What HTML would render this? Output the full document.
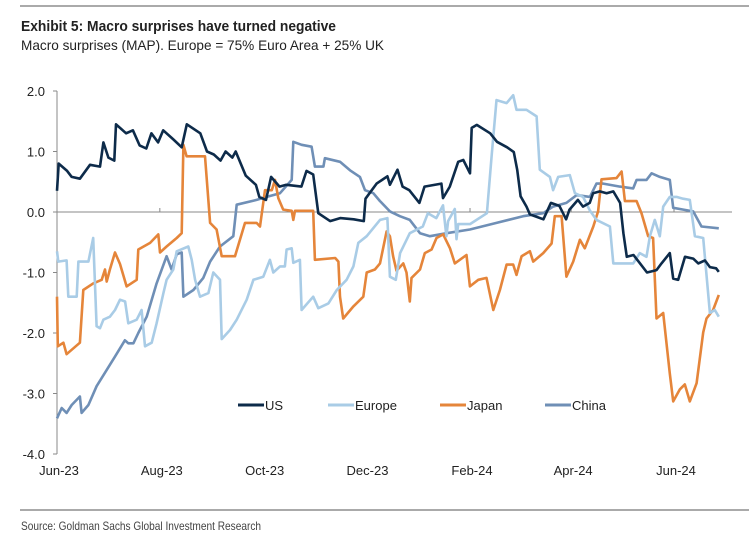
<!DOCTYPE html>
<html><head><meta charset="utf-8"><style>
body{margin:0;background:#fff;}
svg{display:block;font-family:"Liberation Sans",Arial,sans-serif;}
</style></head><body>
<svg id="chart" width="749" height="543" viewBox="0 0 749 543" xmlns="http://www.w3.org/2000/svg">
<line x1="20" y1="6" x2="749" y2="6" stroke="#555" stroke-width="1"/>
<text x="21" y="31" font-size="15" font-weight="bold" fill="#222" textLength="315" lengthAdjust="spacingAndGlyphs">Exhibit 5: Macro surprises have turned negative</text>
<text x="21" y="50" font-size="14" fill="#222" textLength="363" lengthAdjust="spacingAndGlyphs">Macro surprises (MAP). Europe = 75% Euro Area + 25% UK</text>
<g id="axes"></g>
<g id="series"></g>
<g id="legend"></g>
<line x1="20" y1="510" x2="749" y2="510" stroke="#555" stroke-width="1"/>
<text x="21" y="530" font-size="12" fill="#444" textLength="240" lengthAdjust="spacingAndGlyphs">Source: Goldman Sachs Global Investment Research</text>
</svg>
<script>
const yTicks=[2,1,0,-1,-2,-3,-4];
const yTickLabels=["2.0","1.0","0.0","-1.0","-2.0","-3.0","-4.0"];
const xTickDays=[0,61,122,183,245,305,366];
const xTickLabels=["Jun-23","Aug-23","Oct-23","Dec-23","Feb-24","Apr-24","Jun-24"];
const seriesNames=["US","Europe","Japan","China"];
const usDays=[0,1,6,8.7,13.6,19.6,25.5,27.5,30.5,34,35,41,45,49,53,56,60,63,69,74,77,85,89,93,97,100,104,106,112,118,120,124,127,132,136,145,148,152,155,162,168,176,182,183,189.6,196,197.5,202,205,209,215,218,228,229,233,238,241,245,246,249,257,261,267,271,273,275,278.5,280.5,288.5,293,298,302,304,309,312,316,318,322,326,330,334,336,338,342,345,350,355.6,358.6,363.5,365.5,368.5,372.5,377.4,380.4,384.3,387.3,391,392.6];
const usVals=[0.35,0.8,0.68,0.58,0.55,0.78,0.75,1.15,0.9,0.85,1.45,1.3,1.35,1.1,1.05,1.3,1.15,1.35,1.2,1.07,1.45,1.3,1.0,0.95,0.85,1.0,0.9,1.0,0.6,0.45,0.25,0.2,0.58,0.42,0.45,0.42,0.68,0.62,-0.02,-0.15,-0.1,-0.12,-0.15,0.22,0.47,0.59,0.45,0.7,0.42,0.36,0.15,0.42,0.47,0.23,0.42,0.83,0.86,0.64,1.39,1.44,1.3,1.16,1.07,0.99,0.7,0.26,0.09,-0.04,-0.12,0.15,0.1,-0.12,0.04,0.2,0.09,0.15,0.31,0.34,0.31,0.34,0.15,-0.35,-0.74,-0.71,-0.82,-1.0,-0.96,-0.85,-0.68,-1.1,-1.12,-0.74,-0.77,-0.85,-0.8,-0.91,-0.93,-0.99];
const euDays=[0,0.8,5.7,6.7,11.7,12.7,18.6,21.5,23.5,25.5,27.5,31.4,34.4,37.4,40.4,42.3,47.3,50.2,52.2,56.2,59.1,63.1,65,69,71,77.9,79.9,81.9,84.8,89.8,92.7,96.7,97.7,102.6,106.6,112.5,116.5,122.4,126.3,128.3,132.3,135.2,136.2,139.2,140.2,144.1,145.1,152,155,161,166,171.8,175.8,178.7,183.7,191.6,196,197.5,201,203.5,209.3,217,220,225,229,231,232,236,237,238,245,255,257.8,260.7,266.7,270.6,272.6,278.5,284.5,286.4,292.4,294.3,297.3,304.2,307.2,312.1,316,320,328,330,341.8,345.7,349.7,351.7,354.6,357.6,359.6,363.5,367.5,371.4,375.4,378.4,383.3,387.3,390.2,392.6];
const euVals=[-0.65,-0.82,-0.8,-1.4,-1.4,-0.82,-0.82,-0.43,-1.89,-1.92,-1.78,-1.73,-1.62,-1.45,-1.48,-1.84,-1.78,-1.62,-2.22,-2.16,-1.84,-1.34,-1.12,-0.95,-0.65,-0.57,-0.79,-1.12,-1.4,-1.34,-1.0,-1.12,-2.1,-1.95,-1.78,-1.45,-1.12,-1.07,-0.79,-1.0,-0.9,-0.9,-0.62,-0.6,-0.84,-0.79,-1.62,-1.4,-1.59,-1.51,-1.29,-1.12,-0.9,-0.51,-0.4,-0.13,-0.1,-1.07,-1.12,-0.68,-0.35,-0.24,-0.02,-0.1,0.11,-0.4,-0.15,0.05,-0.45,-0.2,-0.2,-0.02,0.92,1.85,1.8,1.93,1.69,1.69,1.58,0.7,0.58,0.36,0.58,0.61,0.31,0.25,0.03,-0.13,-0.24,-0.85,-0.85,-0.68,-0.74,-0.4,-0.13,-0.4,0.09,0.25,0.25,0.22,0.2,-0.4,-0.43,-1.67,-1.62,-1.73];
const jpDays=[0,0.5,3.8,5.7,13.6,15.6,21.5,26.5,28.5,29.5,31.4,34.4,37.4,41.3,47.3,48.2,55.2,60.1,61.1,65,71,74,75,76.9,87.8,90.8,94.7,97.7,105.6,111.5,118.4,120.4,123.4,127.4,129.3,131.3,134.2,139.2,140.2,141.2,152,153,165,166.9,167.9,169.8,175.8,181.7,183.7,188.6,191.6,195.5,197.5,199.4,201.4,205.4,207.3,209.3,210.3,215.3,218.2,222.2,225.1,229.1,233.1,236,242.9,244.9,249.9,254.8,258.8,262.7,266.7,270.6,272.6,275.6,280.5,282.5,288.4,293.4,295.3,299.3,302.2,306.2,310.2,313.1,318.1,321,323,331.9,334.9,336.9,343.8,346.7,350.7,353.6,355.6,359.6,363.5,365.5,369.5,372.4,375.4,379.4,383.3,385.3,389.2,392.6];
const jpVals=[-1.4,-2.22,-2.16,-2.35,-2.16,-1.29,-1.18,-1.12,-0.95,-1.15,-0.95,-0.67,-0.86,-1.23,-1.12,-0.62,-0.51,-0.37,-0.67,-0.57,-0.43,-0.35,1.11,0.92,0.92,-0.18,-0.29,-0.73,-0.73,-0.18,-0.18,-0.24,0.36,0.36,0.53,0.23,0.04,0.02,-0.13,0.02,0.02,-0.79,-0.76,-0.82,-1.4,-1.76,-1.56,-1.4,-1.0,-0.95,-0.85,-0.32,-0.4,-0.73,-0.97,-0.85,-1.0,-1.48,-1.09,-0.95,-0.68,-0.62,-0.43,-0.37,-0.6,-0.85,-0.71,-1.23,-1.12,-1.09,-1.62,-1.29,-0.87,-0.87,-1.04,-0.73,-0.65,-0.82,-0.68,-0.52,-0.07,-0.07,-1.07,-0.82,-0.46,-0.6,-0.24,0.01,0.54,0.56,0.67,0.18,0.18,-0.02,-0.4,-0.43,-1.76,-1.67,-2.67,-3.13,-2.93,-2.85,-3.13,-2.83,-1.99,-1.76,-1.62,-1.37];
const cnDays=[0,2.8,5.7,8.7,13.6,14.6,18.6,23.5,29.5,34.4,40.3,42.3,45.3,48.2,53.2,59.1,65,68,71,74,75,80.9,86.8,90.8,96.7,104.6,106.6,118.4,124.4,132.3,139.2,140.2,145.1,151,153,158,158.9,167.9,173.8,179.7,182.7,187.6,191.6,197.5,203.4,209.3,215.3,221.2,231.1,244.9,260.7,276.5,288.4,294.3,302.2,308.2,316.1,320,324,333.9,341.8,343.8,349.7,352.7,357.6,363.5,365.5,371.5,377.4,382.3,392.6];
const cnVals=[-3.41,-3.24,-3.32,-3.19,-3.05,-3.32,-3.19,-2.88,-2.61,-2.39,-2.12,-2.17,-2.17,-2.0,-1.73,-1.18,-0.73,-0.95,-0.7,-0.67,-1.4,-1.29,-1.09,-0.82,-0.57,-0.4,0.12,0.2,0.25,0.31,0.53,1.16,1.11,1.08,0.75,0.75,0.89,0.83,0.69,0.58,0.36,0.31,0.18,0.01,-0.07,-0.13,-0.35,-0.4,-0.35,-0.29,-0.18,-0.07,-0.02,0.09,0.15,0.28,0.25,0.47,0.47,0.42,0.39,0.53,0.53,0.64,0.58,0.53,0.07,0.04,0.01,-0.24,-0.27];

const NS="http://www.w3.org/2000/svg";
const x0=57,pxPerDay=617/366,y0=212,pxPerUnit=60.5;
function xs(d){return x0+d*pxPerDay;}
function ys(v){return y0-v*pxPerUnit;}
function mk(tag,attrs,parent){const e=document.createElementNS(NS,tag);for(const k in attrs)e.setAttribute(k,attrs[k]);parent.appendChild(e);return e;}
const axes=document.getElementById('axes');
let yl=mk('line',{x1:x0,y1:ys(2),x2:x0,y2:ys(-4),stroke:'#888','stroke-width':1},axes);


yTicks.forEach((v,i)=>{
  const t=mk('line',{x1:x0-4,y1:ys(v),x2:x0,y2:ys(v),stroke:'#888'},axes);
  
  
  const tx=mk('text',{x:45,y:ys(v)+5,'font-size':13,'text-anchor':'end',fill:'#222'},axes);
  tx.textContent=yTickLabels[i];
  
  
});
let zl=mk('line',{x1:x0,y1:ys(0),x2:732,y2:ys(0),stroke:'#888','stroke-width':1},axes);


xTickDays.forEach((d,i)=>{
  const t=mk('line',{x1:xs(d),y1:ys(0),x2:xs(d),y2:ys(0)-4,stroke:'#888'},axes);
  
  
  const tx=mk('text',{x:xs(d)+2,y:475,'font-size':13,'text-anchor':'middle',fill:'#222'},axes);
  tx.textContent=xTickLabels[i];
  
  
});
const colors=['#0d2b4a','#a9cce6','#e5853a','#6f8fb6'];
const allDays=[usDays,euDays,jpDays,cnDays],allVals=[usVals,euVals,jpVals,cnVals];
const sg=document.getElementById('series');
[3,2,1,0].forEach(i=>{
  const pts=allDays[i].map((d,j)=>xs(d).toFixed(1)+','+ys(allVals[i][j]).toFixed(1)).join(' ');
  const p=mk('polyline',{points:pts,fill:'none',stroke:colors[i],'stroke-width':2.6,'stroke-linejoin':'round'},sg);
  
  
});
const lg=document.getElementById('legend');
const legX=[238,328,440,545];
seriesNames.forEach((n,i)=>{
  const l=mk('line',{x1:legX[i],y1:405,x2:legX[i]+26,y2:405,stroke:colors[i],'stroke-width':3},lg);
  
  
  const t=mk('text',{x:legX[i]+27,y:410,'font-size':13,fill:'#222'},lg);
  t.textContent=n;
  
  
});
</script>
</body></html>
